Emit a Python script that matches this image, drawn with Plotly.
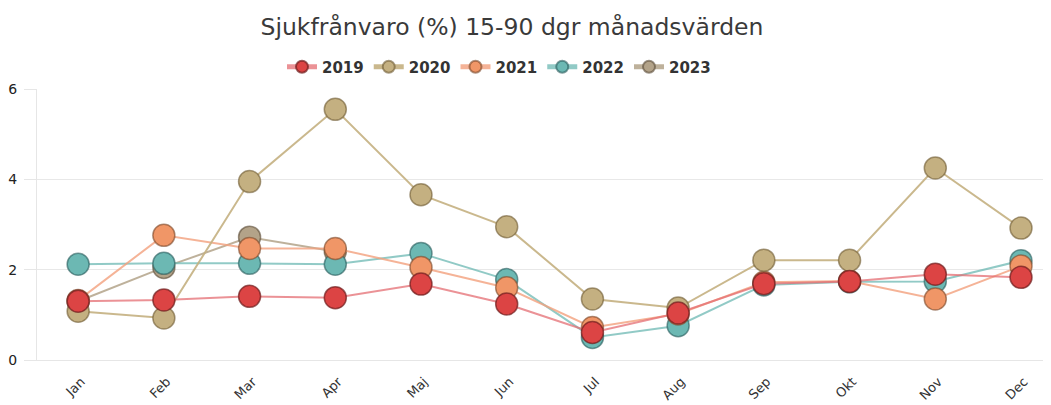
import plotly.graph_objects as go

months = ["Jan", "Feb", "Mar", "Apr", "Maj", "Jun", "Jul", "Aug", "Sep", "Okt", "Nov", "Dec"]

v2019 = [1.30, 1.33, 1.41, 1.38, 1.68, 1.24, 0.61, 1.04, 1.69, 1.74, 1.90, 1.83]
v2020 = [1.08, 0.93, 3.95, 5.55, 3.66, 2.95, 1.35, 1.15, 2.21, 2.21, 4.25, 2.92]
v2021 = [1.32, 2.76, 2.47, 2.47, 2.05, 1.60, 0.72, 1.02, 1.72, 1.75, 1.35, 2.08]
v2022 = [2.12, 2.14, 2.14, 2.12, 2.36, 1.78, 0.50, 0.76, 1.66, 1.73, 1.74, 2.20]
v2023 = [1.30, 2.05, 2.72, 2.40, None, None, None, None, None, None, None, None]

series = [
    ("2019", v2019, "#dc4444", "rgba(228,110,115,0.75)", "rgba(110,30,30,0.7)"),
    ("2020", v2020, "#c4b081", "rgba(196,176,129,0.9)", "rgba(110,90,50,0.6)"),
    ("2021", v2021, "#f09667", "rgba(243,160,125,0.8)", "rgba(120,70,40,0.6)"),
    ("2022", v2022, "#6cb8b3", "rgba(108,184,179,0.75)", "rgba(40,90,90,0.6)"),
    ("2023", v2023, "#b3a389", "rgba(179,163,137,0.85)", "rgba(90,75,55,0.6)"),
]

fig = go.Figure()
for name, vals, fill, line, edge in reversed(series):
    fig.add_trace(go.Scatter(
        x=months, y=vals, name=name, mode="lines+markers",
        line=dict(color=line, width=2),
        marker=dict(size=22, color=fill, line=dict(color=edge, width=1.5)),
        connectgaps=False,
    ))

W, H = 1043, 397
ML = 29
PW = W - ML
fig.update_layout(
    width=W, height=H,
    paper_bgcolor="white", plot_bgcolor="white",
    margin=dict(l=ML, r=0, t=81, b=45, autoexpand=False),
    font=dict(family="DejaVu Sans", color="#333333"),
    title=dict(text="Sjukfrånvaro (%) 15-90 dgr månadsvärden", x=504 / W, xanchor="center",
               y=1 - 19 / H, yanchor="middle", font=dict(size=23.5, color="#3a3a3a")),
    legend=dict(orientation="h", traceorder="reversed", x=(491 - ML) / PW,
                xanchor="center", y=1.081, yanchor="middle",
                font=dict(size=15, color="#333333", weight="bold"),
                itemsizing="constant", bgcolor="rgba(0,0,0,0)"),
    showlegend=True,
)
fig.update_xaxes(
    range=[-0.48, 11.35], showgrid=False, showline=True, linecolor="#e6e6e6", linewidth=1,
    tickangle=-45, tickfont=dict(size=13, color="#333333"), ticks="",
    ticklabelshift=3, ticklabelstandoff=8,
)
fig.update_yaxes(
    range=[0, 6], tickvals=[0, 2, 4, 6], showgrid=True, gridcolor="#e8e8e8", gridwidth=1,
    showline=True, linecolor="#e6e6e6", ticks="outside", ticklen=12, tickcolor="#e6e6e6",
    tickfont=dict(size=14, color="#222222"), zeroline=False, ticklabelstandoff=4,
)
fig.write_html("out.html")
